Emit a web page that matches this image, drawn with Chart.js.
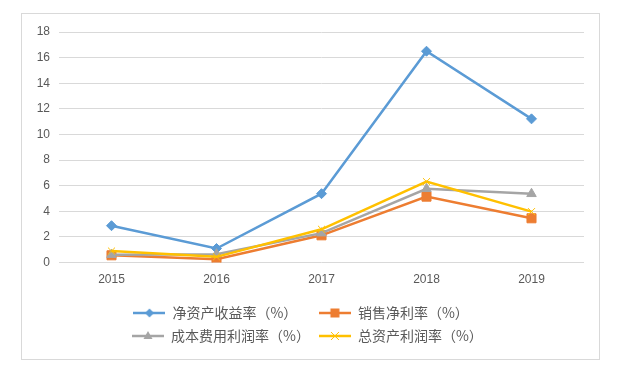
<!DOCTYPE html>
<html>
<head>
<meta charset="utf-8">
<script src="https://cdn.jsdelivr.net/npm/chart.js@4.4.1/dist/chart.umd.min.js"></script>
<style>
  body { margin: 0; background: #fff; }
  #quadro { position: absolute; left: 21px; top: 13px; width: 577px; height: 345px; border: 1px solid #d9d9d9; background: #fff; }
  canvas { display: block; }
</style>
</head>
<body>
<div id="quadro"><canvas id="grafico"></canvas></div>
<script>
const anos = ["2015", "2016", "2017", "2018", "2019"];
const nomesSeries = ["净资产收益率（%）", "销售净利率（%）", "成本费用利润率（%）", "总资产利润率（%）"];
const retornoPatrimonio = [2.88, 1.1, 5.38, 16.5, 11.22];
const margemLiquida = [0.57, 0.27, 2.13, 5.15, 3.46];
const lucroSobreCusto = [0.62, 0.66, 2.3, 5.76, 5.37];
const retornoAtivos = [0.9, 0.45, 2.6, 6.32, 3.98];
const ticksY = [0, 2, 4, 6, 8, 10, 12, 14, 16, 18];

const cores = ["#5B9BD5", "#ED7D31", "#A5A5A5", "#FFC000"];
const marcadores = ["rectRot", "rect", "triangle", "crossRot"];
const raios = [5, 6.4, 5.5, 5];
const fonteCJK = "'Noto Sans CJK SC', 'Noto Sans', sans-serif";
const fonteNum = "'Liberation Sans', sans-serif";
const corTexto = "#595959";

// larguras alvo do texto da legenda, para forcar duas colunas
const alvosLegenda = [136, 150, 136, 150];

function completar(texto, alvo) {
  const ctx = document.createElement("canvas").getContext("2d");
  ctx.font = "14px " + fonteCJK;
  let t = texto;
  while (ctx.measureText(t).width < alvo) t += " ";
  return t;
}

function iconeLegenda(cor, estilo) {
  const c = document.createElement("canvas");
  c.width = 32;
  c.height = 14;
  const ctx = c.getContext("2d");
  ctx.strokeStyle = cor;
  ctx.fillStyle = cor;
  ctx.lineWidth = 2.5;
  ctx.beginPath();
  ctx.moveTo(0, 7);
  ctx.lineTo(32, 7);
  ctx.stroke();
  ctx.lineWidth = 1;
  ctx.beginPath();
  switch (estilo) {
    case "rectRot":
      ctx.moveTo(11.5, 7); ctx.lineTo(16, 2.5); ctx.lineTo(20.5, 7); ctx.lineTo(16, 11.5);
      ctx.closePath(); ctx.fill();
      break;
    case "rect":
      ctx.rect(11.5, 2.5, 9, 9); ctx.fill();
      break;
    case "triangle":
      ctx.moveTo(16, 2); ctx.lineTo(20.5, 10); ctx.lineTo(11.5, 10);
      ctx.closePath(); ctx.fill();
      break;
    case "crossRot":
      ctx.moveTo(12, 3); ctx.lineTo(20, 11); ctx.moveTo(20, 3); ctx.lineTo(12, 11);
      ctx.stroke();
      break;
  }
  return c;
}

const valores = [retornoPatrimonio, margemLiquida, lucroSobreCusto, retornoAtivos];
const icones = cores.map((cor, i) => iconeLegenda(cor, marcadores[i]));

const datasets = valores.map((dados, i) => ({
  label: nomesSeries[i],
  data: dados,
  borderColor: cores[i],
  backgroundColor: cores[i],
  borderWidth: 2.5,
  pointStyle: marcadores[i],
  pointRadius: raios[i],
  pointBackgroundColor: cores[i],
  pointBorderColor: cores[i],
  pointBorderWidth: 1,
  tension: 0,
  fill: false,
  order: 3 - i
}));

new Chart(document.getElementById("grafico"), {
  type: "line",
  data: { labels: anos, datasets: datasets },
  options: {
    responsive: true,
    maintainAspectRatio: false,
    animation: false,
    layout: { padding: { left: 0, right: 15, top: 18, bottom: 6 } },
    plugins: {
      tooltip: { enabled: false },
      legend: {
        position: "bottom",
        fullSize: false,
        labels: {
          usePointStyle: true,
          pointStyleWidth: 32,
          padding: 9,
          color: corTexto,
          font: { size: 14, family: fonteCJK },
          generateLabels: chart => chart.data.datasets.map((ds, i) => ({
            text: completar(ds.label, alvosLegenda[i]),
            pointStyle: icones[i],
            fontColor: corTexto,
            hidden: false,
            lineWidth: 0,
            datasetIndex: i
          }))
        }
      }
    },
    scales: {
      x: {
        offset: true,
        grid: { display: false, drawTicks: false, offset: true },
        border: { display: false },
        ticks: { padding: 10, color: corTexto, font: { size: 12, family: fonteNum } }
      },
      y: {
        min: ticksY[0],
        max: ticksY[ticksY.length - 1],
        afterFit: s => { s.width = 37; },
        grid: { color: "#d9d9d9", lineWidth: 1, drawTicks: false },
        border: { display: false },
        ticks: {
          stepSize: ticksY[1] - ticksY[0],
          padding: 9,
          color: corTexto,
          font: { size: 12, family: fonteNum }
        }
      }
    }
  }
});
</script>
</body>
</html>
